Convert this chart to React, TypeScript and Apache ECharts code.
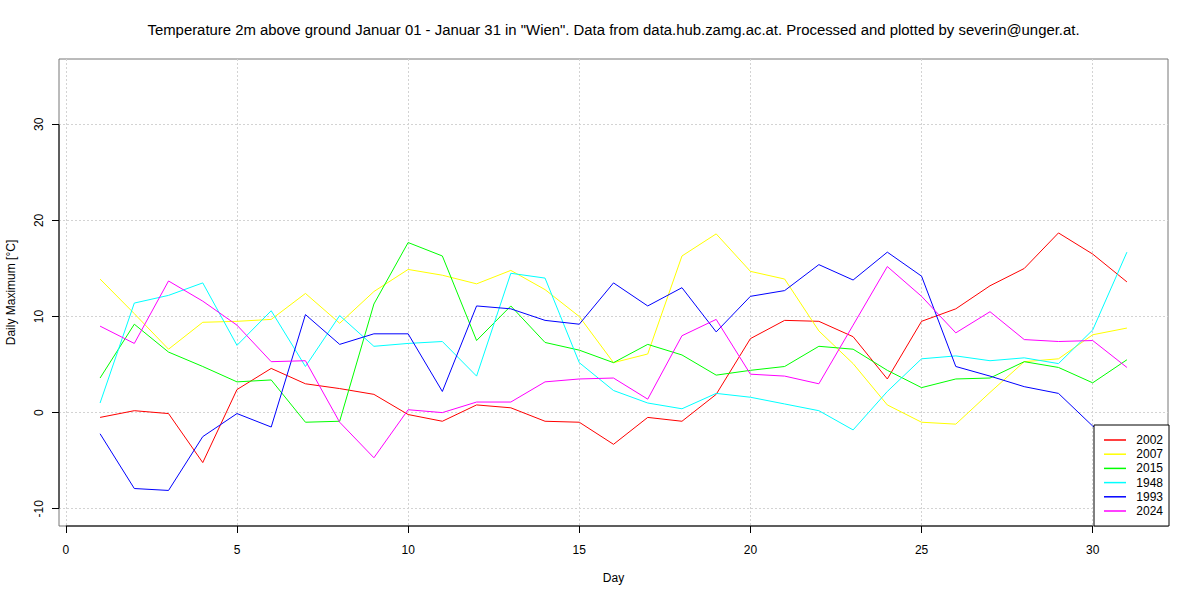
import React, { useEffect, useRef } from "react";
import * as echarts from "echarts";

const FONT = "'Liberation Sans', Arial, Helvetica, sans-serif";

const days = [1, 2, 3, 4, 5, 6, 7, 8, 9, 10, 11, 12, 13, 14, 15, 16, 17, 18, 19, 20, 21, 22, 23, 24, 25, 26, 27, 28, 29, 30, 31];

const years = ["2002", "2007", "2015", "1948", "1993", "2024"];
const colors = ["#ff0000", "#ffff00", "#00ff00", "#00ffff", "#0000ff", "#ff00ff"];

const t2002 = [-0.5, 0.2, -0.1, -5.2, 2.4, 4.6, 3.0, 2.5, 1.9, -0.2, -0.9, 0.8, 0.5, -0.9, -1.0, -3.3, -0.5, -0.9, 1.9, 7.7, 9.6, 9.5, 7.9, 3.5, 9.5, 10.8, 13.2, 15.0, 18.7, 16.5, 13.6];
const t2007 = [13.9, 10.3, 6.6, 9.4, 9.5, 9.7, 12.4, 9.3, 12.6, 14.9, 14.3, 13.4, 14.8, 12.8, 10.0, 5.2, 6.1, 16.3, 18.6, 14.7, 13.9, 8.5, 5.1, 0.8, -1.0, -1.2, 2.1, 5.3, 5.6, 8.1, 8.8];
const t2015 = [3.6, 9.2, 6.3, 4.8, 3.2, 3.4, -1.0, -0.9, 11.3, 17.7, 16.3, 7.5, 11.1, 7.3, 6.5, 5.2, 7.1, 6.0, 3.9, 4.4, 4.8, 6.9, 6.6, 4.4, 2.6, 3.5, 3.6, 5.3, 4.7, 3.1, 5.5];
const t1948 = [1.0, 11.4, 12.2, 13.5, 7.0, 10.6, 4.8, 10.1, 6.9, 7.2, 7.4, 3.8, 14.5, 14.0, 5.2, 2.3, 1.0, 0.4, 2.0, 1.6, 0.9, 0.2, -1.8, 2.2, 5.6, 5.9, 5.4, 5.7, 5.1, 8.6, 16.7];
const t1993 = [-2.2, -7.9, -8.1, -2.5, -0.1, -1.5, 10.2, 7.1, 8.2, 8.2, 2.2, 11.1, 10.8, 9.6, 9.2, 13.5, 11.1, 13.0, 8.4, 12.1, 12.7, 15.4, 13.8, 16.7, 14.2, 4.8, 3.8, 2.7, 2.0, -1.4, -3.0];
const t2024 = [9.0, 7.2, 13.7, 11.6, 9.1, 5.3, 5.4, -1.0, -4.7, 0.3, 0.0, 1.1, 1.1, 3.2, 3.5, 3.6, 1.4, 8.0, 9.7, 4.0, 3.8, 3.0, 9.1, 15.2, 12.1, 8.3, 10.5, 7.6, 7.4, 7.5, 4.7];

const seriesValues = [t2002, t2007, t2015, t1948, t1993, t2024];

const xTicks = [0, 5, 10, 15, 20, 25, 30];
const yTicks = [-10, 0, 10, 20, 30];
const xRange = [-0.2, 32.2];
const yRange = [-11.8, 36.8];

const titleText =
  'Temperature 2m above ground Januar 01 - Januar 31 in "Wien". Data from data.hub.zamg.ac.at. Processed and plotted by severin@unger.at.';

export default function App() {
  const ref = useRef<HTMLDivElement>(null);

  useEffect(() => {
    if (!ref.current) return;
    const chart = echarts.init(ref.current, null, { renderer: "svg" });
    const textBase = { color: "#000", fontFamily: FONT, fontSize: 12 };
    const option: any = {
      animation: false,
      backgroundColor: "#fff",
      grid: {
        left: 59,
        top: 59,
        right: 32,
        bottom: 74,
        show: true,
        borderColor: "#777",
        borderWidth: 1,
        backgroundColor: "transparent",
        outerBoundsMode: "none",
      },
      legend: {
        orient: "vertical",
        left: 1094,
        top: 425,
        backgroundColor: "#fff",
        borderColor: "#000",
        borderWidth: 1,
        borderRadius: 0,
        padding: [9, 6, 9, 10],
        itemWidth: 22,
        itemHeight: 1.5,
        itemGap: 2.2,
        icon: "rect",
        data: years,
        formatter: "{a|{name}}",
        textStyle: {
          ...textBase,
          rich: { a: { ...textBase, width: 32, align: "right" } },
        },
      },
      xAxis: {
        type: "value",
        min: xRange[0],
        max: xRange[1],
        name: "Day",
        nameLocation: "middle",
        nameGap: 46,
        nameTextStyle: textBase,
        axisLine: { show: false, onZero: false },
        axisTick: { show: true, inside: false, length: 7, customValues: xTicks, lineStyle: { color: "#000", width: 1 } },
        axisLabel: { ...textBase, margin: 18, customValues: xTicks },
        splitLine: { show: true, lineStyle: { color: "#d3d3d3", width: 1, type: [2, 2] } },
      },
      yAxis: {
        type: "value",
        min: yRange[0],
        max: yRange[1],
        name: "Daily Maximum [°C]",
        nameLocation: "middle",
        nameGap: 42,
        nameTextStyle: textBase,
        axisLine: { show: false, onZero: false },
        axisTick: { show: true, inside: false, length: 7, customValues: yTicks, lineStyle: { color: "#000", width: 1 } },
        axisLabel: { ...textBase, margin: 14, rotate: 90, customValues: yTicks },
        splitLine: { show: true, lineStyle: { color: "#d3d3d3", width: 1, type: [2, 2] } },
      },
      series: years.map((y, i) => ({
        name: y,
        type: "line",
        showSymbol: false,
        symbol: "none",
        color: colors[i],
        lineStyle: { color: colors[i], width: 1 },
        data: days.map((d, j) => [d, seriesValues[i][j]]),
        z: 2 + i * 0.01,
      })),
    };
    chart.setOption(option);

    const p = (x: number, y: number) => chart.convertToPixel({ gridIndex: 0 }, [x, y]) as number[];
    const xa0 = p(xTicks[0], yRange[0]);
    const xa1 = p(xTicks[xTicks.length - 1], yRange[0]);
    const ya0 = p(xRange[0], yTicks[0]);
    const ya1 = p(xRange[0], yTicks[yTicks.length - 1]);
    const top = p(xRange[0], yRange[1]);
    const right = p(xRange[1], yRange[1]);
    chart.setOption({
      graphic: [
        {
          type: "text",
          x: (top[0] + right[0]) / 2,
          y: 30,
          style: {
            text: titleText,
            align: "center",
            verticalAlign: "middle",
            fill: "#000",
            fontFamily: FONT,
            fontSize: 14.9,
          },
        },
        {
          type: "line",
          z: 5,
          shape: { x1: xa0[0], y1: xa0[1], x2: xa1[0], y2: xa1[1] },
          style: { stroke: "#000", lineWidth: 1 },
        },
        {
          type: "line",
          z: 5,
          shape: { x1: ya0[0], y1: ya0[1], x2: ya1[0], y2: ya1[1] },
          style: { stroke: "#000", lineWidth: 1 },
        },
      ],
    });

    return () => chart.dispose();
  }, []);

  return (
    <div
      ref={ref}
      style={{ position: "absolute", left: 0, top: 0, width: 1200, height: 600, background: "#fff" }}
    />
  );
}
